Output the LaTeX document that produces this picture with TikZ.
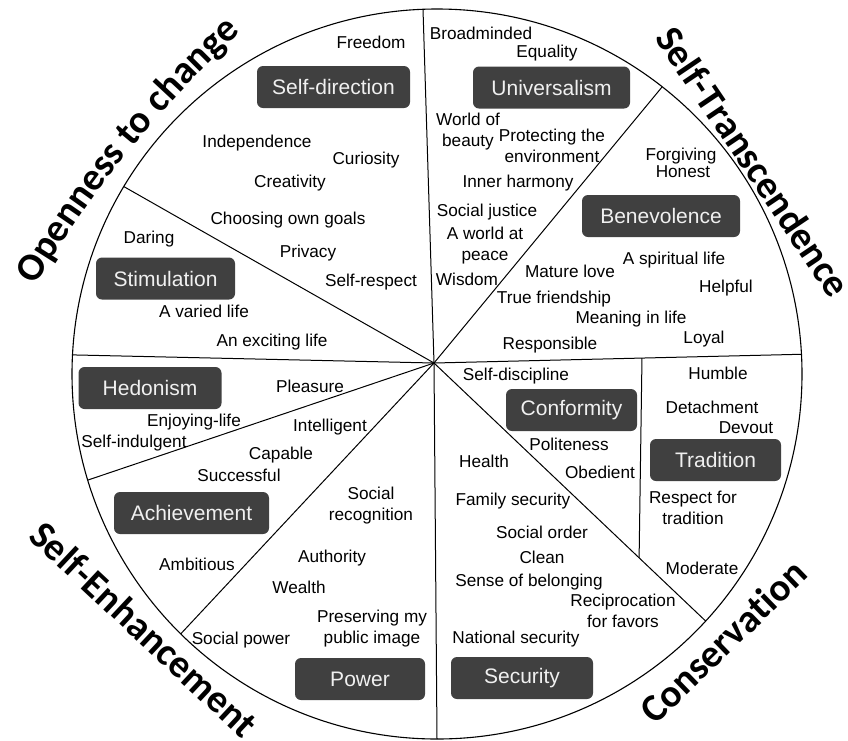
\documentclass[tikz,border=0pt]{standalone}
\usepackage{fontspec}
\setmainfont{Liberation Sans}
\newfontfamily\titlefamily{Carlito}
\usetikzlibrary{calc,decorations.text}

\definecolor{boxgray}{RGB}{64,64,64}
\newcommand{\itemfont}{\fontsize{17.2}{21}\selectfont}
\newcommand{\boxfont}{\fontsize{21}{25}\selectfont}
\newcommand{\titlefont}{\titlefamily\bfseries\fontsize{39}{39}\selectfont}

\tikzset{
  valbox/.style={fill=boxgray, rounded corners=6, text=white!94!black, font=\boxfont, minimum height=42, inner sep=0},
  item/.style={font=\itemfont, inner sep=0, text height=12.3, text depth=0},
  itemtwo/.style={font=\itemfont, inner sep=0, align=center},
  rim/.style={line width=1.1},
  spoke/.style={line width=1},
  arctitle/.style={decorate, decoration={text along path, text align=center, text={|\titlefont|#1}}}
}

\begin{document}
\begin{tikzpicture}[x=1pt, y=1pt]
        \useasboundingbox (0,0) rectangle (848,-740);
        \coordinate (C) at (437,-374);
        \coordinate (H) at (434,-363);

        \foreach \a/\n in {92.2/top, 51.9/ur, 3.1/r, -42.6/lr, -90/bot, 225.4/ll, 196.9/lm, 177/l, 149.1/ul}
            \coordinate (\n) at ($(C)+(\a:365)$);
        \coordinate (trtop) at ($(H)!0.566!(r)$);
        \coordinate (trbot) at ($(H)!0.755!(lr)$);

        \draw [rim] (C) circle [radius=365];
        \foreach \n in {top, ur, r, lr, bot, ll, lm, l, ul}
            \draw [spoke] (H) -- (\n);
        \draw [spoke] (trtop) -- (trbot);

        \path [arctitle={Openness to change}] ($(983.9,-843.5)+(153:1100)$) arc [start angle=153, end angle=129, radius=1100];
        \path [arctitle={Self-Transcendence}] (630.8,-3.4) -- (854.4,-335);
        \path [arctitle={Self-Enhancement}] (-11,-502.4) -- (281,-775.6);
        \path [arctitle={Conservation}] (589.1,-790.1) -- (876.3,-511.7);

        \node [valbox, minimum width=153] (sdir) at (333.5,-87) {Self-direction};
        \node [valbox, minimum width=139] (stim) at (165.5,-278.5) {Stimulation};
        \node [valbox, minimum width=157] (univ) at (551.5,-87.5) {Universalism};
        \node [valbox, minimum width=158] (bene) at (661,-216) {Benevolence};
        \node [valbox, minimum width=143] (hedo) at (150,-388) {Hedonism};
        \node [valbox, minimum width=155] (achi) at (191.5,-513) {Achievement};
        \node [valbox, minimum width=130] (powr) at (360,-679) {Power};
        \node [valbox, minimum width=131] (conf) at (571.5,-410) {Conformity};
        \node [valbox, minimum width=131] (trad) at (715.5,-460) {Tradition};
        \node [valbox, minimum width=142] (secu) at (522,-678) {Security};

        \node [item] (freedom) at (371,-42) {Freedom};
        \node [item] (indep) at (257,-141) {Independence};
        \node [item] (curio) at (366,-158) {Curiosity};
        \node [item] (creat) at (290,-181) {Creativity};
        \node [item] (goals) at (288,-218) {Choosing own goals};
        \node [item] (privacy) at (308,-251) {Privacy};
        \node [item] (selfresp) at (371,-280) {Self-respect};
        \node [item] (daring) at (149,-237) {Daring};
        \node [item] (varied) at (204,-311) {A varied life};
        \node [item] (exciting) at (272,-340) {An exciting life};

        \node [item] (broad) at (481,-33) {Broadminded};
        \node [item] (equal) at (547,-51) {Equality};
        \node [itemtwo] (beauty) at (468,-132) {World of\\beauty};
        \node [itemtwo] (environ) at (552,-146) {Protecting the\\environment};
        \node [item] (inner) at (518,-181) {Inner harmony};
        \node [item] (justice) at (487,-210) {Social justice};
        \node [itemtwo] (peace) at (485,-246) {A world at\\peace};
        \node [item] (wisdom) at (467,-279) {Wisdom};

        \node [item] (forgiving) at (681,-154) {Forgiving};
        \node [item] (honest) at (683,-171) {Honest};
        \node [item] (spiritual) at (674,-258) {A spiritual life};
        \node [item] (mature) at (570,-271) {Mature love};
        \node [item] (helpful) at (726,-286) {Helpful};
        \node [item] (friend) at (554,-297) {True friendship};
        \node [item] (meaning) at (631,-317) {Meaning in life};
        \node [item] (loyal) at (704,-337) {Loyal};
        \node [item] (respons) at (550,-343) {Responsible};

        \node [item] (pleasure) at (310,-386) {Pleasure};
        \node [item] (enjoy) at (194,-420) {Enjoying-life};
        \node [item] (indulg) at (134,-441) {Self-indulgent};
        \node [item] (intell) at (330,-425) {Intelligent};
        \node [item] (capable) at (281,-453) {Capable};
        \node [item] (success) at (239,-475) {Successful};
        \node [item] (ambit) at (197,-564) {Ambitious};
        \node [itemtwo] (recog) at (371,-506) {Social\\recognition};
        \node [item] (author) at (332,-556) {Authority};
        \node [item] (wealth) at (299,-587) {Wealth};
        \node [itemtwo] (image) at (372,-629) {Preserving my\\public image};
        \node [item] (socpow) at (241,-638) {Social power};

        \node [item] (discip) at (516,-374) {Self-discipline};
        \node [item] (polite) at (569,-444) {Politeness};
        \node [item] (obed) at (600,-472) {Obedient};
        \node [item] (humble) at (718,-373) {Humble};
        \node [item] (detach) at (712,-407) {Detachment};
        \node [item] (devout) at (746,-427) {Devout};
        \node [itemtwo] (respect) at (693,-508) {Respect for\\tradition};
        \node [item] (moder) at (702,-568) {Moderate};

        \node [item] (health) at (484,-461) {Health};
        \node [item] (family) at (513,-499) {Family security};
        \node [item] (order) at (542,-532) {Social order};
        \node [item] (clean) at (542,-557) {Clean};
        \node [item] (belong) at (529,-580) {Sense of belonging};
        \node [itemtwo] (recip) at (623,-611) {Reciprocation\\for favors};
        \node [item] (national) at (516,-637) {National security};
    \end{tikzpicture}
\end{document}
